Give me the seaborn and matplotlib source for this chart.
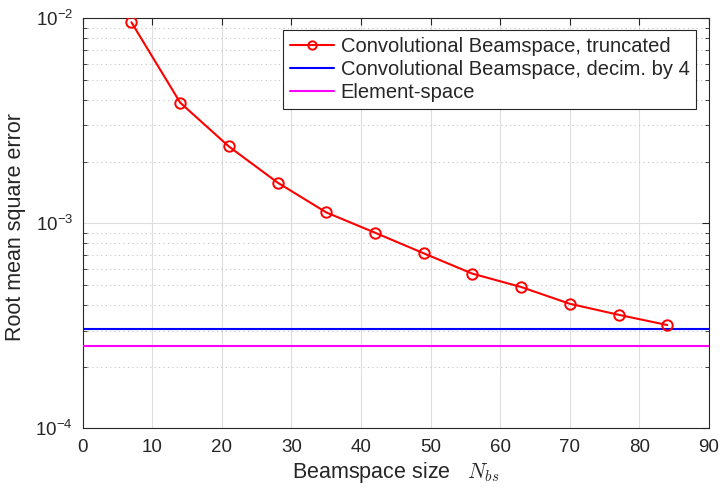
import numpy as np
import pandas as pd
import matplotlib
matplotlib.use("Agg")
import matplotlib.pyplot as plt
import matplotlib.ticker as mticker
import seaborn as sns

# ---- data ----
beam_sizes = [7, 14, 21, 28, 35, 42, 49, 56, 63, 70, 77, 84]
rmse_truncated = [0.00956, 0.00388, 0.00237, 0.00158, 0.00113, 0.00090,
                  0.000714, 0.000568, 0.000489, 0.000405, 0.000358, 0.000319]
x_span = [0, 90]
rmse_decim4 = 0.000305
rmse_element = 0.000253
x_ticks = [0, 10, 20, 30, 40, 50, 60, 70, 80, 90]
labels = ["Convolutional Beamspace, truncated",
          "Convolutional Beamspace, decim. by 4",
          "Element-space"]

sns.set_style("white")
plt.rcParams["font.family"] = ["Liberation Sans", "DejaVu Sans"]
plt.rcParams["mathtext.fontset"] = "cm"

fig = plt.figure(figsize=(7.2, 4.93), dpi=100)
ax = fig.add_axes([0.1149, 0.1312, 0.8698, 0.8317])

df_tr = pd.DataFrame({"x": beam_sizes, "y": rmse_truncated})
df_d4 = pd.DataFrame({"x": x_span, "y": [rmse_decim4] * len(x_span)})
df_el = pd.DataFrame({"x": x_span, "y": [rmse_element] * len(x_span)})

sns.lineplot(data=df_tr, x="x", y="y", ax=ax, color="#ff0000", lw=1.5,
             marker="o", markersize=7.5, markerfacecolor="none",
             markeredgecolor="#ff0000", markeredgewidth=1.4, label=labels[0],
             zorder=5)
sns.lineplot(data=df_d4, x="x", y="y", ax=ax, color="#0000ff", lw=1.5,
             label=labels[1], zorder=4)
sns.lineplot(data=df_el, x="x", y="y", ax=ax, color="#ff00ff", lw=1.5,
             label=labels[2], zorder=4)

ax.set_yscale("log")
ax.set_xlim(0, 90)
ax.set_ylim(1e-4, 1e-2)
ax.set_xticks(x_ticks)
ax.set_xticklabels([str(t) for t in x_ticks])
ax.yaxis.set_major_locator(mticker.LogLocator(base=10, numticks=10))
ax.yaxis.set_minor_locator(mticker.LogLocator(base=10, subs=np.arange(2, 10), numticks=20))
ax.yaxis.set_minor_formatter(mticker.NullFormatter())

ax.set_axisbelow(True)
ax.grid(True, which="major", axis="both", color="#dedede", lw=0.8, ls="-")
ax.grid(True, which="minor", axis="y", color="#c4c4c4", lw=0.8, ls=(0, (1, 3)))

for s in ax.spines.values():
    s.set_color("#262626")
    s.set_linewidth(0.8)

ax.tick_params(axis="both", which="major", direction="in", length=5, width=0.8,
               colors="#262626", labelcolor="#262626", labelsize=13.5,
               top=True, right=True)
ax.tick_params(axis="x", which="major", pad=8)
ax.tick_params(axis="y", which="major", pad=7)
ax.tick_params(axis="y", which="minor", direction="in", length=3, width=0.6,
               colors="#262626", left=True, right=True)

ax.set_xlabel(r"Beamspace size   $N_{bs}$", fontsize=15.5, color="#262626")
ax.set_ylabel("Root mean square error", fontsize=15.5, color="#262626")
ax.xaxis.set_label_coords(0.5, -0.078)
ax.yaxis.set_label_coords(-0.091, 0.49)

leg = ax.legend(loc="upper right", bbox_to_anchor=(0.980, 0.9715), fontsize=14.5,
                frameon=True, fancybox=False, shadow=False, framealpha=1,
                edgecolor="#262626", handlelength=2.2, handletextpad=0.3,
                borderpad=0.35, labelspacing=0.2, borderaxespad=0, numpoints=1,
                markerscale=0.8)
leg.get_frame().set_linewidth(0.8)

fig.savefig("out.png", dpi=100, facecolor="white")
